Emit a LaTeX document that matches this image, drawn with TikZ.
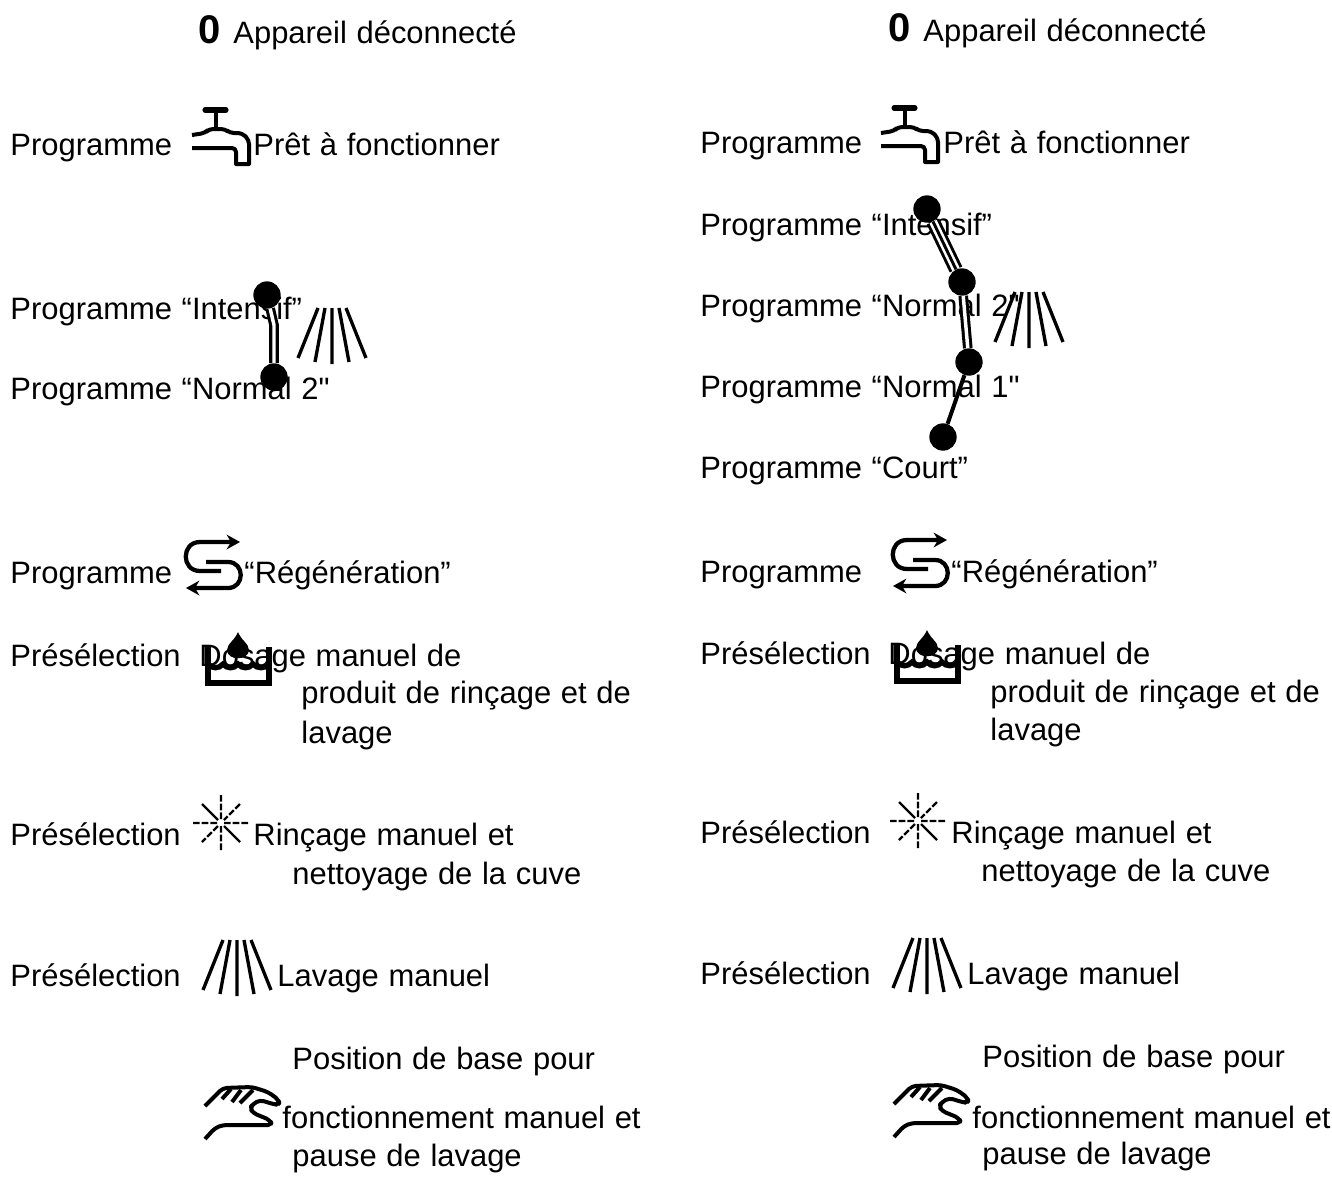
\documentclass[tikz,border=0pt]{standalone}
\usepackage{fontspec}
\newfontfamily\labelfont[WordSpace=1.13]{Liberation Sans}
\usetikzlibrary{arrows.meta}
\tikzset{
  lbl/.style={anchor=base west,inner sep=0pt,xshift=-0.6pt,font=\labelfont\fontsize{23.2}{28}\selectfont},
  zero/.style={anchor=base west,inner sep=0pt,font=\labelfont\fontsize{30}{34}\selectfont\bfseries},
  dot/.style={circle,fill=black,minimum size=20.5pt,inner sep=0pt},
  link1/.style={line width=3pt},
  link2/.style={line width=2.3pt,double,double distance=2.6pt},
  link3/.style={line width=2.2pt,double,double distance=6pt,postaction={draw,line width=2.2pt,double=none}},
  icon/.style={line width=3pt,line join=round},
  tapicon/.pic={
    \draw[line width=3.8pt,line cap=round] (13,0) -- (34,0);
    \draw[icon] (24,0) -- (24,19);
    \draw[icon,rounded corners=3pt] (0,25) -- (13,23) -- (17,19) -- (33,19) -- (38,23) -- (50,23) -- (57,30)[sharp corners] -- (57,54) -- (44,54) -- (44,42)[rounded corners=3pt] -- (44,38) -- (0,38);
  },
  sprayicon/.pic={
    \draw[line width=2.5pt] (-14,0) -- (-34,50) (-7,0) -- (-17,54) (0,0) -- (0,56) (7,0) -- (17,54) (14,0) -- (34,50);
  },
  staricon/.pic={
    \draw[line width=1.7pt] (-19,-19) -- (-3,-3) (3,3) -- (19,19);
    \draw[line width=1.7pt,dash pattern=on 5pt off 1.5pt] (19,-19) -- (3,-3) (-3,3) -- (-19,19) (0,-28) -- (0,-3) (0,3) -- (0,28) (-28,0) -- (-3,0) (3,0) -- (28,0);
  },
  regenicon/.pic={
    \draw[icon,line width=3.2pt,->] (35,33) -- (14,33) .. controls (-5,33) and (-5,4) .. (14,4) -- (54,4);
    \draw[icon,line width=3.2pt,->] (20,24) -- (42,24) .. controls (59,24) and (59,50) .. (42,50) -- (0,50);
  },
  bowlicon/.pic={
    \fill (30,0) .. controls (27,8) and (19,12) .. (19,18) .. controls (19,29) and (41,29) .. (41,18) .. controls (41,12) and (33,8) .. (30,0) -- cycle;
    \draw[line width=3.8pt,line join=miter] (0,15) -- (0,51) -- (61,51) -- (61,15);
    \draw[line width=4pt] (0,32) .. controls (4,37) and (11,37) .. (15,32) .. controls (19,37) and (26,37) .. (30,32) .. controls (34,37) and (41,37) .. (45,32) .. controls (49,37) and (57,37) .. (61,32);
  },
  handicon/.pic={
    \draw[icon,rounded corners=3pt] (15,31) -- (33,13) -- (62,12) -- (78,17) -- (89,25) -- (89,30) -- (83,29) -- (70,25) -- (63,29) -- (60,33) -- (63,38) -- (80,45) -- (82,50) -- (33,50) -- (25,53) -- (15,64);
    \draw[icon] (32,24) -- (41,14) (42,27) -- (51,15) (50,28) -- (63,15);
  },
}
\begin{document}
\begin{tikzpicture}[x=0.75pt,y=-0.75pt,>={Stealth[length=10pt,width=11pt]}]
\useasboundingbox (0,0) rectangle (1332,1179);
% left column
\node[zero] (zeroL) at (198,43) {0};
\node[lbl] (offL) at (234,43) {Appareil déconnecté};
\node[lbl] (progA) at (11,155) {Programme};
\pic at (192,110) {tapicon};
\node[lbl] (readyL) at (254,155) {Prêt à fonctionner};
\node[lbl] (intensL) at (11,319) {Programme “Intensif”};
\node[lbl] (normL) at (11,399) {Programme “Normal 2"};
\pic at (332,308) {sprayicon};
\node[dot] (dotA) at (267,295) {};
\node[dot] (dotB) at (274,377) {};
\coordinate (kinkA) at (274,325);
\draw[link2] (dotA) -- (kinkA) -- (dotB);
\node[lbl] (progR) at (11,583) {Programme};
\pic at (186,538) {regenicon};
\node[lbl] (regenL) at (245,583) {“Régénération”};
\node[lbl] (preA) at (11,666) {Présélection};
\pic at (208,632) {bowlicon};
\node[lbl] (doseL) at (200,666) {Dosage manuel de};
\node[lbl] (doseLb) at (302,703) {produit de rinçage et de};
\node[lbl] (doseLc) at (302,743) {lavage};
\node[lbl] (preB) at (11,845) {Présélection};
\pic at (221,823) {staricon};
\node[lbl] (rinseL) at (254,845) {Rinçage manuel et};
\node[lbl] (rinseLb) at (293,884) {nettoyage de la cuve};
\node[lbl] (preC) at (11,986) {Présélection};
\pic at (237,940) {sprayicon};
\node[lbl] (washL) at (278,986) {Lavage manuel};
\node[lbl] (baseL) at (293,1069) {Position de base pour};
\pic at (190,1075) {handicon};
\node[lbl] (baseLb) at (283,1128) {fonctionnement manuel et};
\node[lbl] (baseLc) at (293,1166) {pause de lavage};
% right column
\node[zero] (zeroR) at (888,41) {0};
\node[lbl] (offR) at (924,41) {Appareil déconnecté};
\node[lbl] (progB) at (701,153) {Programme};
\pic at (881,108) {tapicon};
\node[lbl] (readyR) at (944,153) {Prêt à fonctionner};
\node[lbl] (intensR) at (701,235) {Programme “Intensif”};
\node[lbl] (normRb) at (701,316) {Programme “Normal 2"};
\node[lbl] (normRa) at (701,397) {Programme “Normal 1"};
\node[lbl] (shortR) at (701,478) {Programme “Court”};
\pic at (1029,292) {sprayicon};
\node[dot] (dotC) at (927,209) {};
\node[dot] (dotD) at (962,282) {};
\node[dot] (dotE) at (969,362) {};
\node[dot] (dotF) at (943,437) {};
\draw[link3] (dotC) -- (dotD);
\draw[link2] (dotD) -- (dotE);
\draw[link1] (dotE) -- (dotF);
\node[lbl] (progS) at (701,582) {Programme};
\pic at (893,536) {regenicon};
\node[lbl] (regenR) at (952,582) {“Régénération”};
\node[lbl] (preD) at (701,664) {Présélection};
\pic at (897,630) {bowlicon};
\node[lbl] (doseR) at (889,664) {Dosage manuel de};
\node[lbl] (doseRb) at (991,702) {produit de rinçage et de};
\node[lbl] (doseRc) at (991,740) {lavage};
\node[lbl] (preE) at (701,843) {Présélection};
\pic at (918,821) {staricon};
\node[lbl] (rinseR) at (952,843) {Rinçage manuel et};
\node[lbl] (rinseRb) at (982,881) {nettoyage de la cuve};
\node[lbl] (preF) at (701,984) {Présélection};
\pic at (927,938) {sprayicon};
\node[lbl] (washR) at (968,984) {Lavage manuel};
\node[lbl] (baseR) at (983,1067) {Position de base pour};
\pic at (879,1073) {handicon};
\node[lbl] (baseRb) at (973,1128) {fonctionnement manuel et};
\node[lbl] (baseRc) at (983,1164) {pause de lavage};
\end{tikzpicture}
\end{document}
